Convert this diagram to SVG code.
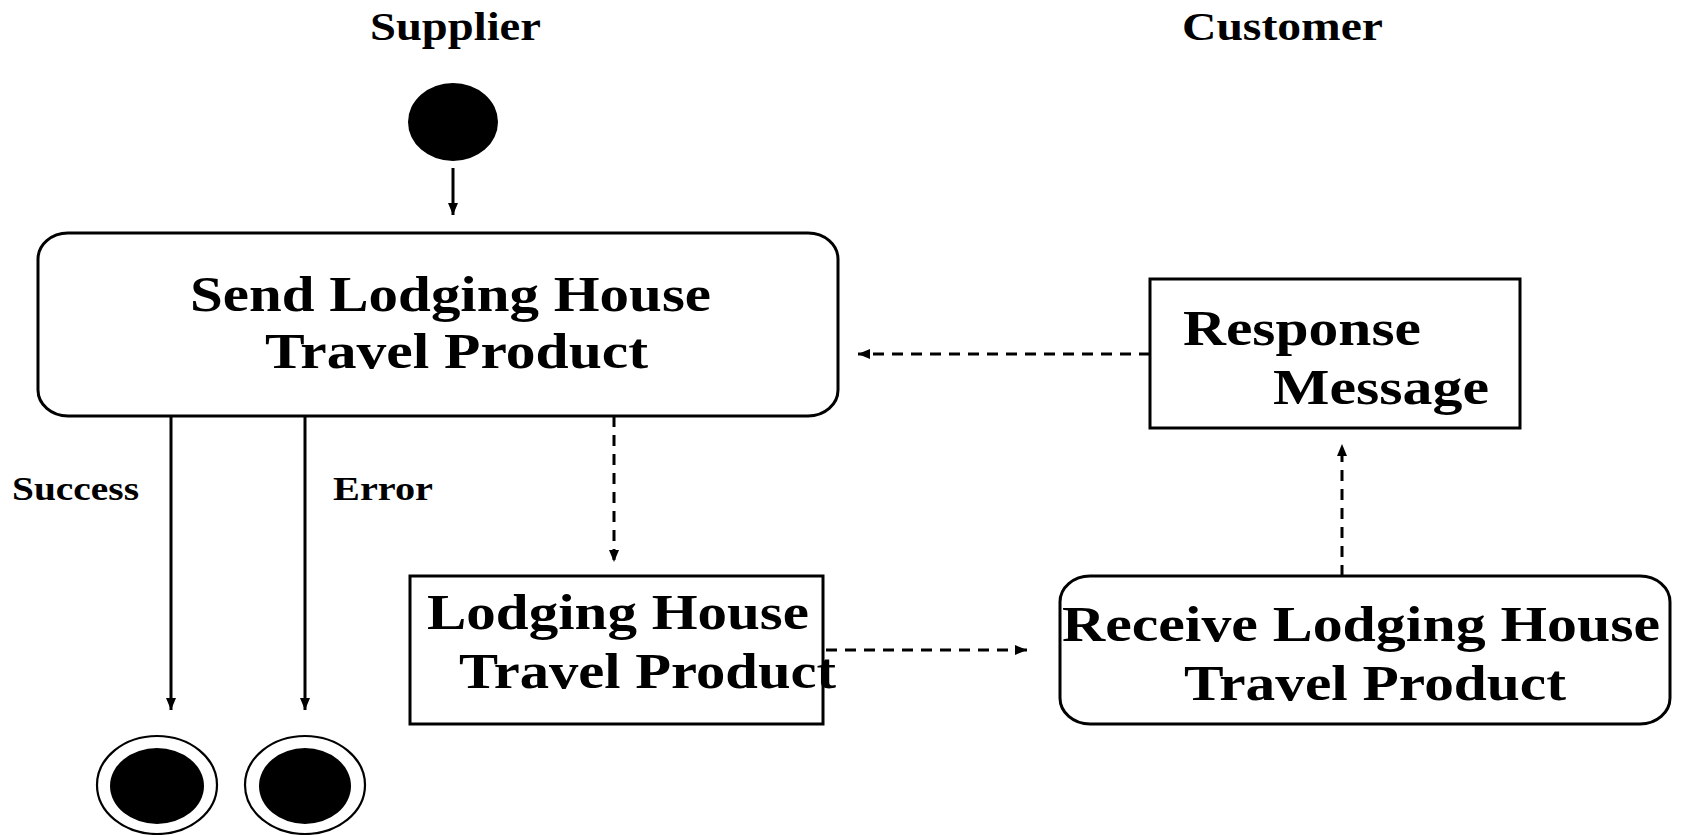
<svg xmlns="http://www.w3.org/2000/svg" width="1681" height="835" viewBox="0 0 1681 835">
<style>
text{font-family:"Liberation Serif","Times New Roman",serif;font-weight:bold;fill:#000}
.box{fill:#fff;stroke:#000;stroke-width:3}
.ln{stroke:#000;stroke-width:3;fill:none}
.dash{stroke-dasharray:11 8}
.big{font-size:50px}
.lane{font-size:40px}
.lbl{font-size:34px}
.ring{fill:#fff;stroke:#000;stroke-width:2.2}
</style>
<defs>
<marker id="ah" viewBox="0 0 12 12" refX="12" refY="6" markerWidth="12" markerHeight="12" markerUnits="userSpaceOnUse" orient="auto">
<path d="M0,1 L12,6 L0,11 z" fill="#000"/>
</marker>
</defs>
<rect width="1681" height="835" fill="#fff"/>
<g id="lane-supplier"><text class="lane" x="370" y="40" textLength="171" lengthAdjust="spacingAndGlyphs">Supplier</text></g>
<g id="lane-customer"><text class="lane" x="1182" y="40" textLength="201" lengthAdjust="spacingAndGlyphs">Customer</text></g>
<g id="connectors">
<line class="ln" x1="453" y1="168" x2="453" y2="215" marker-end="url(#ah)"/>
<line class="ln dash" x1="1150" y1="354" x2="858" y2="354" marker-end="url(#ah)"/>
<line class="ln dash" x1="1342" y1="576" x2="1342" y2="444" marker-end="url(#ah)"/>
<line class="ln dash" x1="614" y1="416" x2="614" y2="562" marker-end="url(#ah)"/>
<line class="ln dash" x1="826" y1="650" x2="1027" y2="650" marker-end="url(#ah)"/>
<line class="ln" x1="171" y1="416" x2="171" y2="710" marker-end="url(#ah)"/>
<line class="ln" x1="305" y1="416" x2="305" y2="710" marker-end="url(#ah)"/>
<text class="lbl" x="12" y="500" textLength="127" lengthAdjust="spacingAndGlyphs">Success</text>
<text class="lbl" x="333" y="500" textLength="100" lengthAdjust="spacingAndGlyphs">Error</text>
</g>
<g id="initial"><ellipse cx="453" cy="122" rx="45" ry="39" fill="#000"/></g>
<g id="send">
<rect class="box" x="38" y="233" width="800" height="183" rx="30" ry="26"/>
<text class="big" x="190" y="311" textLength="521" lengthAdjust="spacingAndGlyphs">Send Lodging House</text>
<text class="big" x="265" y="368" textLength="383" lengthAdjust="spacingAndGlyphs">Travel Product</text>
</g>
<g id="response">
<rect class="box" x="1150" y="279" width="370" height="149"/>
<text class="big" x="1183" y="345" textLength="238" lengthAdjust="spacingAndGlyphs">Response</text>
<text class="big" x="1273" y="404" textLength="216" lengthAdjust="spacingAndGlyphs">Message</text>
</g>
<g id="lodging">
<rect class="box" x="410" y="576" width="413" height="148"/>
<text class="big" x="427" y="629" textLength="382" lengthAdjust="spacingAndGlyphs">Lodging House</text>
<text class="big" x="459" y="688" textLength="377" lengthAdjust="spacingAndGlyphs">Travel Product</text>
</g>
<g id="receive">
<rect class="box" x="1060" y="576" width="610" height="148" rx="30" ry="26"/>
<text class="big" x="1062" y="641" textLength="598" lengthAdjust="spacingAndGlyphs">Receive Lodging House</text>
<text class="big" x="1184" y="700" textLength="382" lengthAdjust="spacingAndGlyphs">Travel Product</text>
</g>
<g id="final-success">
<ellipse class="ring" cx="157" cy="785" rx="60" ry="49"/>
<ellipse cx="157" cy="786" rx="47" ry="38" fill="#000"/>
</g>
<g id="final-error">
<ellipse class="ring" cx="305" cy="785" rx="60" ry="49"/>
<ellipse cx="305" cy="786" rx="46" ry="38" fill="#000"/>
</g>
</svg>
